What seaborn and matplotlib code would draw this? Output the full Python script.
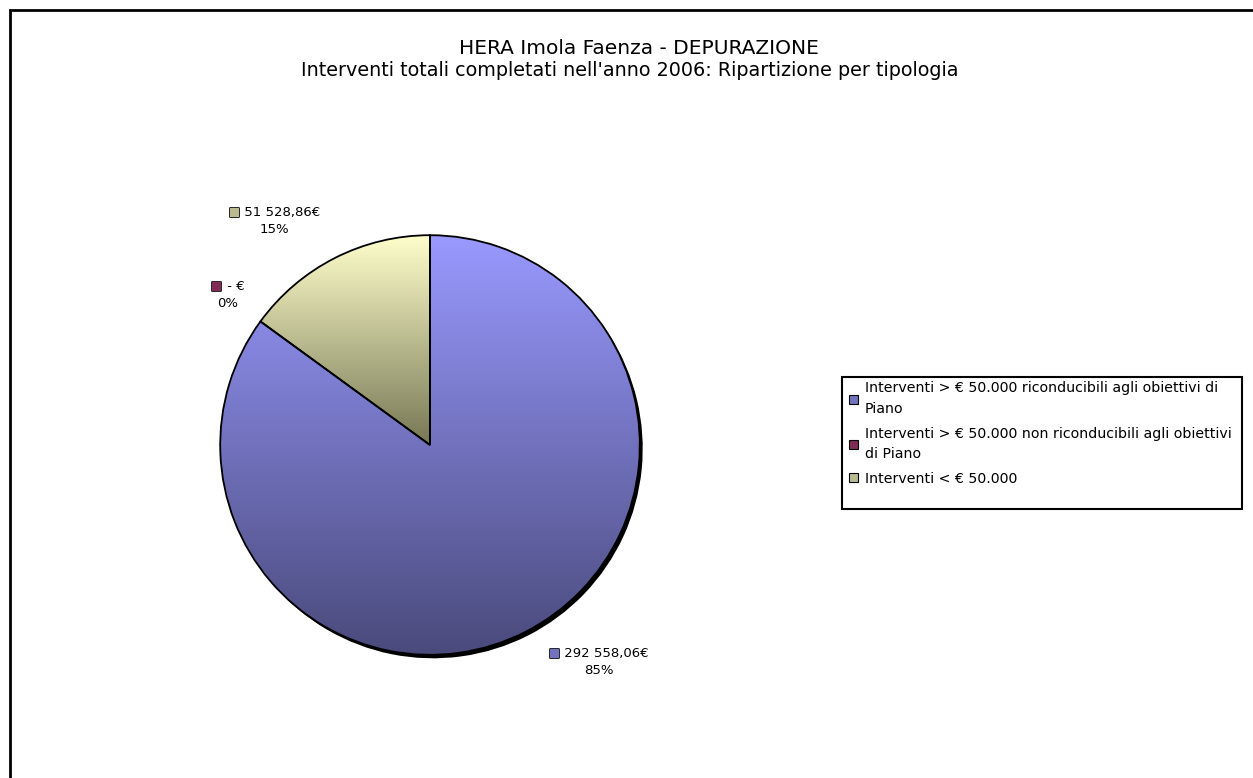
import numpy as np
import matplotlib
matplotlib.use("Agg")
import matplotlib.pyplot as plt
import seaborn as sns
from matplotlib.patches import Rectangle, Wedge, Patch
from matplotlib.offsetbox import TextArea, HPacker, VPacker, AnnotationBbox
from matplotlib.colors import LinearSegmentedColormap, to_rgb
import matplotlib.patheffects as pe

# ---------------- data ----------------
title_lines = ["HERA Imola Faenza - DEPURAZIONE",
               "Interventi totali completati nell'anno 2006: Ripartizione per tipologia"]
categories = ["Interventi > € 50.000 riconducibili agli obiettivi di\nPiano",
              "Interventi > € 50.000 non riconducibili agli obiettivi\ndi Piano",
              "Interventi < € 50.000"]
values = [292558.06, 0.0, 51528.86]
value_labels = ["292 558,06€", "- €", "51 528,86€"]
pct_labels = ["85%", "0%", "15%"]

# ---------------- style ----------------
top_colors = ["#9999FF", "#A3386E", "#FFFFCC"]
bottom_colors = ["#4A4A7C", "#5C1F3D", "#777755"]
label_angle_shift = [11.0, -0.5, 7.8]
label_radius = [1.31, 1.20, 1.30]

sns.set_theme(style="white")
plt.rcParams['font.family'] = ['DejaVu Sans']
plt.rcParams['text.color'] = 'black'

W, H = 1253, 778
fig = plt.figure(figsize=(W / 100, H / 100), dpi=100)
fig.patch.set_facecolor('white')

# outer frame (only left/top visible in reference)
fig.patches.append(Rectangle((9.5 / W, -0.1), 1.2, (H - 9.5) / H + 0.1,
                             transform=fig.transFigure, fill=False,
                             edgecolor='black', linewidth=2))

# titles
fig.text(639 / W, 1 - 48 / H, title_lines[0], ha='center', va='center', fontsize=14.5)
fig.text(630 / W, 1 - 71 / H, title_lines[1], ha='center', va='center', fontsize=13.8)

cx, cy, R = 430, 445, 214
ax = fig.add_axes([(cx - R) / W, (H - cy - R) / H, 2 * R / W, 2 * R / H])

mid_colors = [tuple((np.array(to_rgb(t)) + np.array(to_rgb(b))) / 2)
              for t, b in zip(top_colors, bottom_colors)]

wedges, _ = ax.pie(values, colors=mid_colors, startangle=90, counterclock=False,
                   radius=1, center=(0, 0),
                   wedgeprops=dict(edgecolor='none', linewidth=0),
                   shadow=dict(ox=0.010, oy=-0.012, facecolor='black',
                               edgecolor='black', alpha=1))

# gradient fills clipped to each wedge
for w, v, t, b in zip(wedges, values, top_colors, bottom_colors):
    if v <= 0:
        continue
    ext = w.get_path().get_extents()
    grad = np.linspace(0, 1, 256).reshape(-1, 1)
    cmap = LinearSegmentedColormap.from_list('g', [b, t])
    im = ax.imshow(grad, extent=[ext.x0, ext.x1, ext.y0, ext.y1], origin='lower',
                   cmap=cmap, aspect='auto', zorder=w.get_zorder() + 0.01,
                   interpolation='bilinear')
    im.set_clip_path(w)
    ax.add_patch(Wedge(w.center, w.r, w.theta1, w.theta2, fill=False,
                       edgecolor='black', linewidth=1.3,
                       zorder=w.get_zorder() + 0.02))

ax.set_xlim(-1.02, 1.02)
ax.set_ylim(-1.02, 1.02)
ax.set_aspect('equal')
ax.axis('off')

# data labels
for w, c, vl, pl, sh, rr in zip(wedges, mid_colors, value_labels, pct_labels,
                                label_angle_shift, label_radius):
    ang = np.deg2rad((w.theta1 + w.theta2) / 2 + sh)
    x, y = rr * np.cos(ang), rr * np.sin(ang)
    sq = TextArea("■", textprops=dict(color=c, fontsize=8.5,
                                       path_effects=[pe.withStroke(linewidth=1.2,
                                                                   foreground='black')]))
    line1 = HPacker(children=[sq, TextArea(" " + vl, textprops=dict(fontsize=9.5))],
                    align='center', pad=0, sep=0)
    line2 = TextArea(pl, textprops=dict(fontsize=9.5))
    box = VPacker(children=[line1, line2], align='center', pad=0, sep=3)
    ab = AnnotationBbox(box, (x, y), xycoords='data', frameon=False,
                        box_alignment=(0.5, 0.5), annotation_clip=False)
    ax.add_artist(ab)

# legend
lx0, ly0, lx1, ly1 = 842, 377, 1242, 509
fig.patches.append(Rectangle((lx0 / W, 1 - ly1 / H), (lx1 - lx0) / W, (ly1 - ly0) / H,
                             transform=fig.transFigure, facecolor='white',
                             edgecolor='black', linewidth=1.5, zorder=0))
handles = [Patch(facecolor=c, edgecolor='black', linewidth=0.8) for c in mid_colors]
leg = fig.legend(handles, categories, loc='upper left',
                 bbox_to_anchor=(838 / W, 1 - 370 / H), bbox_transform=fig.transFigure,
                 frameon=False, fontsize=10.2, handlelength=0.6, handleheight=0.6,
                 handletextpad=0.5, labelspacing=0.75, borderpad=0.3)
for txt in leg.get_texts():
    txt.set_linespacing(1.6)

fig.savefig("out.png", dpi=100, facecolor='white')
